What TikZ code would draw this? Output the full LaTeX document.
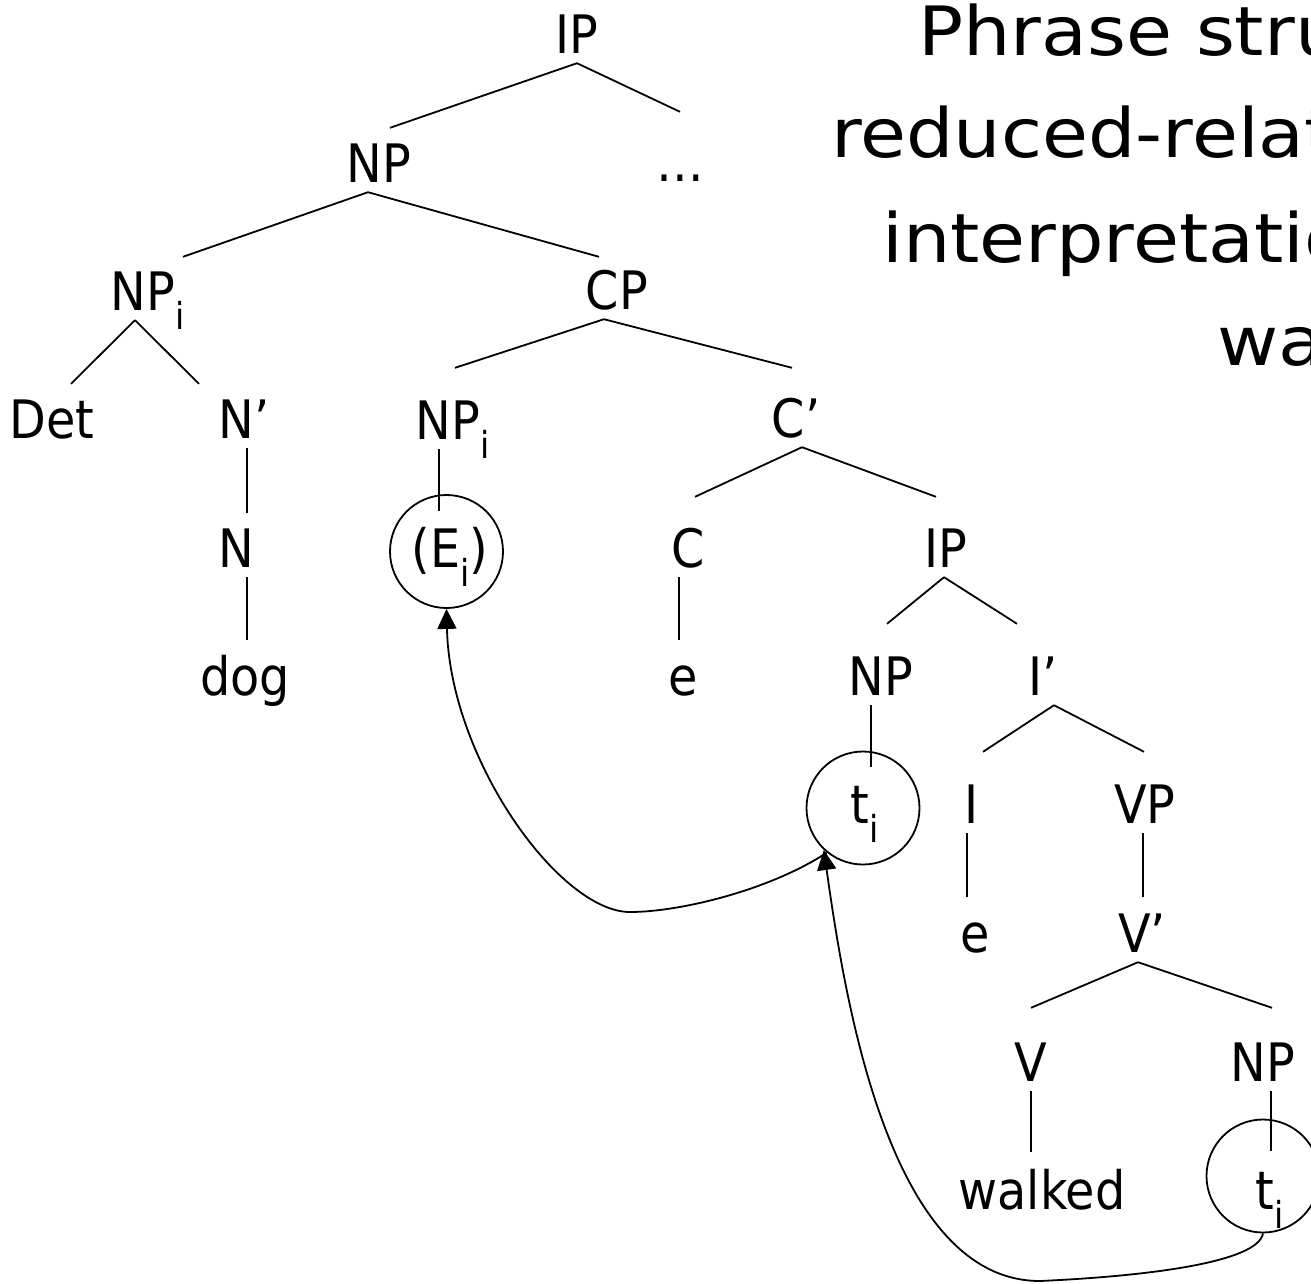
\documentclass[tikz,border=0pt]{standalone}
\usepackage{fontspec}
\setmainfont{DejaVu Sans Condensed}
\newfontfamily\titlefont[FakeStretch=1.1]{DejaVu Sans}
\newcommand{\treesize}{\fontsize{53}{60}\selectfont}
\newcommand{\headsize}{\fontsize{68}{80}\selectfont}
\usetikzlibrary{arrows.meta}

\begin{document}
\begin{tikzpicture}[
            x=1pt, y=1pt,
            cat/.style={font=\treesize, anchor=base, inner xsep=0pt, inner ysep=10pt, text height=39pt, text depth=0pt},
            ring/.style={circle, draw, line width=1.8pt, minimum size=113pt, inner sep=0pt},
            branch/.style={line width=1.8pt},
            move_arrow/.style={-{Triangle[length=20pt, width=19pt]}, line width=1.8pt},
            heading/.style={font=\titlefont\headsize, anchor=base west, inner sep=0pt}
        ]
        \useasboundingbox (0,0) rectangle (1311,-1283);
        \clip (0,0) rectangle (1311,-1283);

        % Title (runs off the right edge)
        \node[heading] (head_a) at (918,-55) {Phrase structure};
        \node[heading] (head_b) at (831,-157) {reduced-relative};
        \node[heading] (head_c) at (882,-262) {interpretation};
        \node[heading] (head_d) at (1217,-365) {walked};

        % Tree labels
        \node[cat] (ip_top) at (577,-53) {IP};
        \node[cat] (np_top) at (379,-182) {NP};
        \node[cat] (dots) at (680,-181) {…};
        \node[cat] (npi_a) at (148,-310) {NP\textsubscript{i}};
        \node[cat] (cp) at (617,-309) {CP};
        \node[cat] (det) at (52,-438) {Det};
        \node[cat] (nbar) at (244,-438) {N’};
        \node[cat] (npi_b) at (453,-439) {NP\textsubscript{i}};
        \node[cat] (cbar) at (796,-437) {C’};
        \node[cat] (n) at (236,-567) {N};
        \node[cat] (ei) at (450,-567) {(E\textsubscript{i})};
        \node[cat] (c) at (688,-567) {C};
        \node[cat] (ip_mid) at (946,-567) {IP};
        \node[cat] (dog) at (245,-695) {dog};
        \node[cat] (e_c) at (683,-695) {e};
        \node[cat] (np_mid) at (881,-695) {NP};
        \node[cat] (ibar) at (1043,-695) {I’};
        \node[cat] (t_a) at (865,-823) {t\textsubscript{i}};
        \node[cat] (i_head) at (972,-823) {I};
        \node[cat] (vp) at (1145,-823) {VP};
        \node[cat] (e_i) at (975,-952) {e};
        \node[cat] (vbar) at (1142,-952) {V’};
        \node[cat] (v) at (1031,-1081) {V};
        \node[cat] (np_low) at (1263,-1081) {NP};
        \node[cat] (walked) at (1042,-1209) {walked};
        \node[cat] (t_b) at (1270,-1209) {t\textsubscript{i}};

        % Circles round the moved elements
        \node[ring] (ei_ring) at (446.5,-551.5) {};
        \node[ring] (t_a_ring) at (863,-808) {};
        \node[ring] (t_b_ring) at (1263,-1176) {};

        % Branches
        \draw[branch] (ip_top.south) -- ([xshift=11pt,yshift=5pt]np_top.north);
        \draw[branch] (ip_top.south) -- ([yshift=20pt]dots.north);
        \draw[branch] ([xshift=-11pt]np_top.south) -- ([xshift=35pt,yshift=4pt]npi_a.north);
        \draw[branch] ([xshift=-11pt]np_top.south) -- ([xshift=-18pt,yshift=3pt]cp.north);
        \draw[branch] ([xshift=-13pt]npi_a.south) -- ([xshift=19pt,yshift=5pt]det.north);
        \draw[branch] ([xshift=-13pt]npi_a.south) -- ([xshift=-45pt,yshift=5pt]nbar.north);
        \draw[branch] ([xshift=-13pt]cp.south) -- ([xshift=2pt,yshift=22pt]npi_b.north);
        \draw[branch] ([xshift=-13pt]cp.south) -- ([xshift=-4pt,yshift=20pt]cbar.north);
        \draw[branch] ([xshift=3pt]nbar.south) -- ([xshift=11pt,yshift=5pt]n.north);
        \draw[branch] ([xshift=-14pt]npi_b.south) -- ([xshift=-7.5pt,yshift=-17pt]ei_ring.north);
        \draw[branch] ([xshift=6pt]cbar.south) -- ([xshift=7pt,yshift=21pt]c.north);
        \draw[branch] ([xshift=6pt]cbar.south) -- ([xshift=-10pt,yshift=21pt]ip_mid.north);
        \draw[branch] ([xshift=11pt]n.south) -- ([xshift=2pt,yshift=6pt]dog.north);
        \draw[branch] ([xshift=-9pt]c.south) -- ([xshift=-4pt,yshift=6pt]e_c.north);
        \draw[branch] ([xshift=-2pt]ip_mid.south) -- ([xshift=6pt,yshift=22pt]np_mid.north);
        \draw[branch] ([xshift=-2pt]ip_mid.south) -- ([xshift=-26pt,yshift=22pt]ibar.north);
        \draw[branch] ([xshift=-10pt]np_mid.south) -- ([xshift=8pt,yshift=-16pt]t_a_ring.north);
        \draw[branch] ([xshift=11pt]ibar.south) -- ([xshift=11pt,yshift=22pt]i_head.north);
        \draw[branch] ([xshift=11pt]ibar.south) -- ([xshift=-1pt,yshift=22pt]vp.north);
        \draw[branch] ([xshift=-5pt]i_head.south) -- ([xshift=-8pt,yshift=6pt]e_i.north);
        \draw[branch] ([xshift=-2pt]vp.south) -- ([xshift=1pt,yshift=6pt]vbar.north);
        \draw[branch] ([xshift=-4pt]vbar.south) -- ([yshift=24pt]v.north);
        \draw[branch] ([xshift=-4pt]vbar.south) -- ([xshift=9pt,yshift=24pt]np_low.north);
        \draw[branch] (v.south) -- ([xshift=-11pt,yshift=8pt]walked.north);
        \draw[branch] ([xshift=8pt]np_low.south) -- ([xshift=8pt,yshift=-32pt]t_b_ring.north);

        % Movement arrows
        \coordinate (low_a) at (630,-912);
        \coordinate (low_b) at (1040,-1281);
        \draw[move_arrow] (t_a_ring.231) .. controls (770,-890) and (680,-912) .. (low_a) .. controls (560,-912) and (450,-760) .. (ei_ring.south);
        \draw[move_arrow] (t_b_ring.south) .. controls (1258,-1262) and (1150,-1276) .. (low_b) to[out=180, in=-82, looseness=0.8] (t_a_ring.227);

    \end{tikzpicture}
\end{document}
